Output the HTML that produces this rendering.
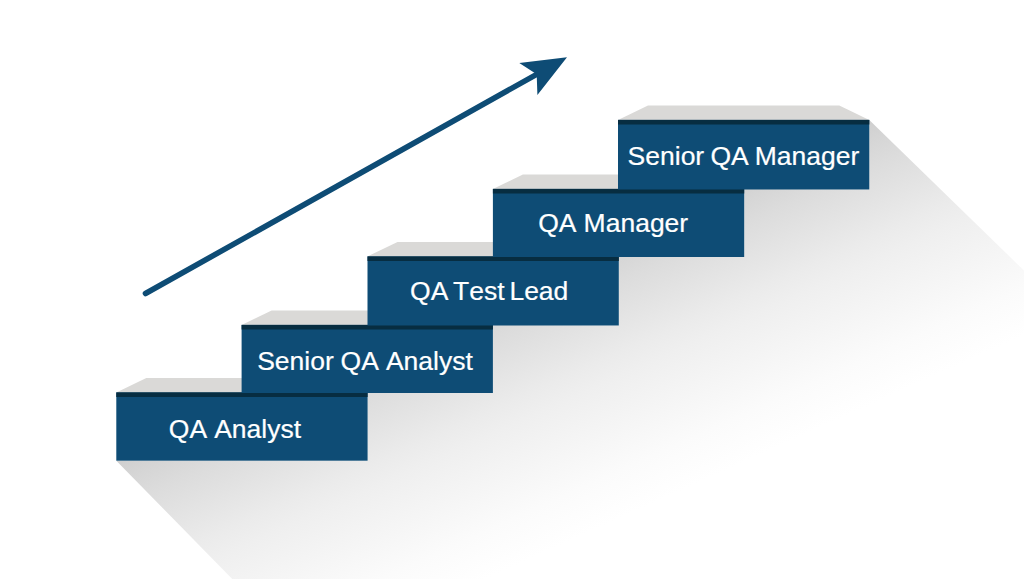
<!DOCTYPE html>
<html><head><meta charset="utf-8"><style>
html,body{margin:0;padding:0;background:#fff;width:1024px;height:579px;overflow:hidden}
svg{display:block;font-family:"Liberation Sans",sans-serif;font-kerning:none}
text{fill:#fff;stroke:#fff;stroke-width:0.2px;font-size:26.5px}
</style></head><body>
<svg width="1024" height="579" viewBox="0 0 1024 579">
<defs><linearGradient id="sh" gradientUnits="userSpaceOnUse" x1="116.3" y1="460.7" x2="223.5" y2="697.6"><stop offset="0.0000" stop-color="rgb(207,207,207)"/><stop offset="0.0833" stop-color="rgb(214,214,214)"/><stop offset="0.1667" stop-color="rgb(220,220,220)"/><stop offset="0.2500" stop-color="rgb(225,225,225)"/><stop offset="0.3333" stop-color="rgb(230,230,230)"/><stop offset="0.4167" stop-color="rgb(235,235,235)"/><stop offset="0.5000" stop-color="rgb(239,239,239)"/><stop offset="0.5833" stop-color="rgb(242,242,242)"/><stop offset="0.6667" stop-color="rgb(245,245,245)"/><stop offset="0.7500" stop-color="rgb(248,248,248)"/><stop offset="0.8333" stop-color="rgb(251,251,251)"/><stop offset="0.9167" stop-color="rgb(253,253,253)"/><stop offset="1.0000" stop-color="rgb(255,255,255)"/></linearGradient></defs>
<polygon points="116.3,460.7 367.6,460.7 367.6,392.4 492.9,393.0 492.9,324.9 618.8,325.5 618.8,256.4 744.2,257.0 744.2,188.9 869.3,189.5 869.3,119.9 1793.6,1019.9 998.3,1360.7" fill="url(#sh)"/>
<polygon points="116.3,392.4 146.3,378.0 337.6,378.0 367.6,392.4" fill="#dad9d7"/>
<rect x="116.3" y="392.4" width="251.3" height="68.3" fill="#0e4c75"/>
<rect x="116.3" y="392.4" width="251.3" height="4.6" fill="#072d41"/>
<text x="168.8" y="438.0">QA</text>
<text x="214.2" y="438.0">Analyst</text>
<polygon points="241.6,324.9 271.6,310.5 462.9,310.5 492.9,324.9" fill="#dad9d7"/>
<rect x="241.6" y="324.9" width="251.3" height="68.1" fill="#0e4c75"/>
<rect x="241.6" y="324.9" width="251.3" height="4.6" fill="#072d41"/>
<text x="257.2" y="369.9">Senior</text>
<text x="340.6" y="369.9">QA</text>
<text x="385.9" y="369.9">Analyst</text>
<polygon points="367.5,256.4 397.5,242.0 588.8,242.0 618.8,256.4" fill="#dad9d7"/>
<rect x="367.5" y="256.4" width="251.3" height="69.1" fill="#0e4c75"/>
<rect x="367.5" y="256.4" width="251.3" height="4.6" fill="#072d41"/>
<text x="410.1" y="300.4">QA</text>
<text x="453.0" y="300.4">Test</text>
<text x="509.4" y="300.4">Lead</text>
<polygon points="492.9,188.9 522.9,174.5 714.2,174.5 744.2,188.9" fill="#dad9d7"/>
<rect x="492.9" y="188.9" width="251.3" height="68.1" fill="#0e4c75"/>
<rect x="492.9" y="188.9" width="251.3" height="4.6" fill="#072d41"/>
<text x="538.2" y="232.4">QA</text>
<text x="583.6" y="232.4">Manager</text>
<polygon points="618.0,119.9 648.0,105.5 839.3,105.5 869.3,119.9" fill="#dad9d7"/>
<rect x="618.0" y="119.9" width="251.3" height="69.6" fill="#0e4c75"/>
<rect x="618.0" y="119.9" width="251.3" height="4.6" fill="#072d41"/>
<text x="627.6" y="165.1">Senior</text>
<text x="710.5" y="165.1">QA</text>
<text x="754.7" y="165.1">Manager</text>
<line x1="145.5" y1="293.5" x2="538" y2="73.6" stroke="#0e4c75" stroke-width="5.6" stroke-linecap="round"/>
<polygon points="567,57.3 519.3,63.1 536.7,74.3 537.4,94.9" fill="#0e4c75"/>
</svg>
</body></html>
